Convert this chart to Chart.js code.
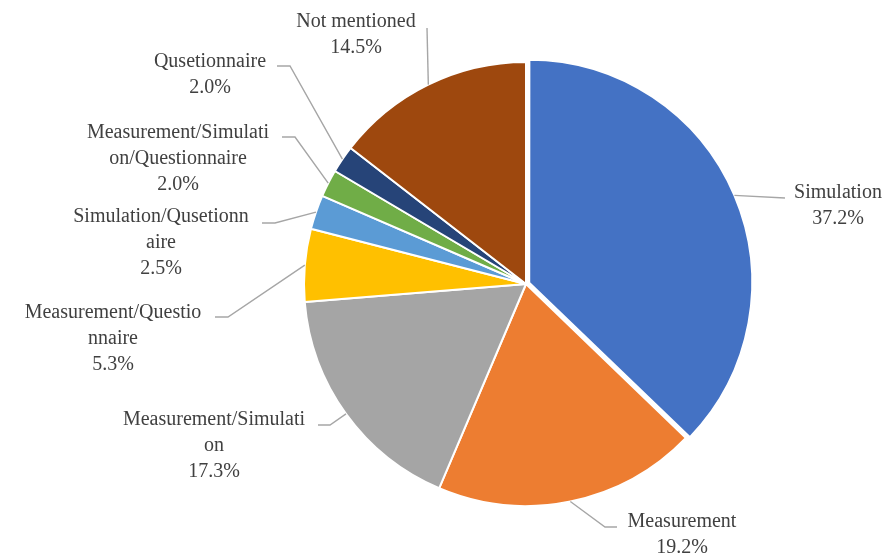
<!DOCTYPE html>
<html>
<head>
<meta charset="utf-8">
<script src="https://cdn.jsdelivr.net/npm/chart.js@4.4.0/dist/chart.umd.min.js"></script>
<style>
  html, body { margin: 0; padding: 0; background: #fff; }
</style>
</head>
<body>
<canvas id="pieChart" width="889" height="559"></canvas>
<script>
/* ================== Data ================== */
const categories = [
  "Simulation",
  "Measurement",
  "Measurement/Simulation",
  "Measurement/Questionnaire",
  "Simulation/Qusetionnaire",
  "Measurement/Simulation/Questionnaire",
  "Qusetionnaire",
  "Not mentioned",
];
const shares = [37.2, 19.2, 17.3, 5.3, 2.5, 2.0, 2.0, 14.5];
const sliceColors = [
  "#4472C4",
  "#ED7D31",
  "#A5A5A5",
  "#FFC000",
  "#5B9BD5",
  "#70AD47",
  "#264478",
  "#9E480E",
];

/* ================== Label placement (style only) ================== */
// tx/ty = centre of first text line, wrap = chars per line, path = leader points after the slice edge
const labelLayout = [
  { tx: 838, ty: 193, wrap: 20, path: [[785, 198]] },
  { tx: 682, ty: 522, wrap: 20, path: [[605, 527], [617, 527]] },
  { tx: 214, ty: 420, wrap: 20, path: [[330, 425], [318, 425]] },
  { tx: 113, ty: 313, wrap: 19, path: [[228, 317], [215, 317]] },
  { tx: 161, ty: 217, wrap: 20, path: [[275, 223], [262, 223]] },
  { tx: 178, ty: 133, wrap: 20, path: [[295, 137], [282, 137]] },
  { tx: 210, ty: 62, wrap: 20, path: [[290, 66], [277, 66]] },
  { tx: 356, ty: 22, wrap: 20, path: [[427, 28]] },
];
const FONT = '20px "Palatino Linotype", "Book Antiqua", Palatino, "Liberation Serif", serif';
const LINE_H = 26;

function wrapName(name, n) {
  const out = [];
  for (let i = 0; i < name.length; i += n) out.push(name.slice(i, i + n));
  return out;
}

/* ================== Leader lines + labels ================== */
const pieLabels = {
  id: "pieLabels",
  afterDatasetsDraw(chart) {
    const { ctx } = chart;
    const meta = chart.getDatasetMeta(0);
    ctx.save();
    meta.data.forEach((arc, i) => {
      const lay = labelLayout[i];
      const { x, y, startAngle, endAngle, outerRadius, circumference } = arc.getProps(
        ["x", "y", "startAngle", "endAngle", "outerRadius", "circumference"],
        true
      );
      const mid = (startAngle + endAngle) / 2;
      // same shift chart.js applies to an exploded arc
      const off = (arc.options.offset || 0) / 4;
      const fix = 1 - Math.sin(Math.min(Math.PI, circumference || 0));
      const shift = off + off * fix;
      const sx = x + Math.cos(mid) * (outerRadius + shift);
      const sy = y + Math.sin(mid) * (outerRadius + shift);

      ctx.strokeStyle = "#A6A6A6";
      ctx.lineWidth = 1.4;
      ctx.beginPath();
      ctx.moveTo(sx, sy);
      lay.path.forEach(([px, py]) => ctx.lineTo(px, py));
      ctx.stroke();

      const lines = wrapName(categories[i], lay.wrap);
      lines.push(shares[i].toFixed(1) + "%");
      ctx.font = FONT;
      ctx.fillStyle = "#404040";
      ctx.textAlign = "center";
      ctx.textBaseline = "middle";
      lines.forEach((t, k) => ctx.fillText(t, lay.tx, lay.ty + k * LINE_H));
    });
    ctx.restore();
  },
};

/* ================== Chart ================== */
const chart = new Chart(document.getElementById("pieChart"), {
  type: "pie",
  data: {
    labels: categories,
    datasets: [
      {
        data: shares,
        backgroundColor: sliceColors,
        borderColor: "#FFFFFF",
        borderWidth: 2,
        offset: [14, 0, 0, 0, 0, 0, 0, 0],
        radius: 222,
      },
    ],
  },
  options: {
    responsive: false,
    animation: false,
    layout: { padding: { left: 173, right: 10, top: 14, bottom: 5 } },
    plugins: {
      legend: { display: false },
      tooltip: { enabled: false },
    },
  },
  plugins: [pieLabels],
});
</script>
</body>
</html>
